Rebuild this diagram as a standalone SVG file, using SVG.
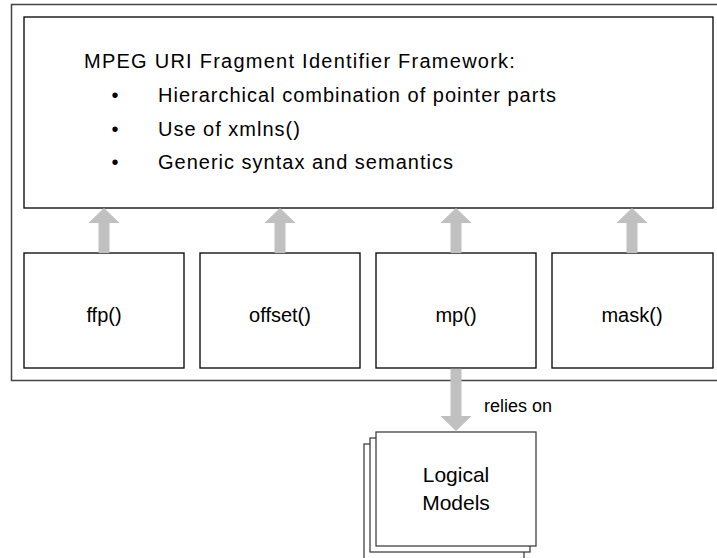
<svg xmlns="http://www.w3.org/2000/svg" width="717" height="558" viewBox="0 0 717 558">
<defs>
<style>
.box{fill:#fff;stroke:#000;stroke-width:1.3}
.frame{fill:#fff;stroke:#444;stroke-width:1.5}
.stk{fill:#fff;stroke:#333;stroke-width:1.2}
.arrow{fill:#c0c0c0;stroke:none}
text{font-family:"Liberation Sans",Arial,sans-serif;fill:#000}
.t{font-size:20px;letter-spacing:1px}
.h{font-size:20px;letter-spacing:1.25px}
.c{font-size:20px;text-anchor:middle}
.m{font-size:21px;text-anchor:middle}
.s{font-size:18px}
</style>
</defs>
<rect class="frame" x="11.5" y="4.5" width="720" height="376"/>
<g id="framework">
<rect class="box" x="24" y="17" width="689" height="191"/>
<text class="h" x="84" y="67.5">MPEG URI Fragment Identifier Framework:</text>
<text class="t" x="111.5" y="101.5">•</text>
<text class="t" x="158" y="101.5">Hierarchical combination of pointer parts</text>
<text class="t" x="111.5" y="135.5">•</text>
<text class="t" x="158" y="135.5">Use of xmlns()</text>
<text class="t" x="111.5" y="168.5">•</text>
<text class="t" x="158" y="168.5">Generic syntax and semantics</text>
</g>
<g id="ffp"><rect class="box" x="24" y="253" width="160" height="115"/><text class="c" x="104" y="322">ffp()</text></g>
<g id="offset"><rect class="box" x="200" y="253" width="160" height="115"/><text class="c" x="280" y="322">offset()</text></g>
<g id="mp"><rect class="box" x="376" y="253" width="160" height="115"/><text class="c" x="456" y="322">mp()</text></g>
<g id="mask"><rect class="box" x="552" y="253" width="161" height="115"/><text class="c" x="632" y="322">mask()</text></g>
<g id="logical-models">
<rect class="stk" x="364" y="444" width="160" height="120"/>
<rect class="stk" x="370" y="438" width="160" height="114"/>
<rect class="stk" x="376" y="432" width="160" height="114"/>
<text class="m" x="456" y="482">Logical</text>
<text class="m" x="456" y="510">Models</text>
</g>
<g id="connectors">
<path class="arrow" d="M98.5,253 V223 H88.5 L104,208 L119.5,223 H109.5 V253 Z"/>
<path class="arrow" d="M274.5,253 V223 H264.5 L280,208 L295.5,223 H285.5 V253 Z"/>
<path class="arrow" d="M450.5,253 V223 H440.5 L456,208 L471.5,223 H461.5 V253 Z"/>
<path class="arrow" d="M626.5,253 V223 H616.5 L632,208 L647.5,223 H637.5 V253 Z"/>
<path class="arrow" d="M450.5,368.7 V416 H440.5 L456,431 L471.5,416 H461.5 V368.7 Z"/>
<text class="s" x="484" y="411.5">relies on</text>
</g>
</svg>
